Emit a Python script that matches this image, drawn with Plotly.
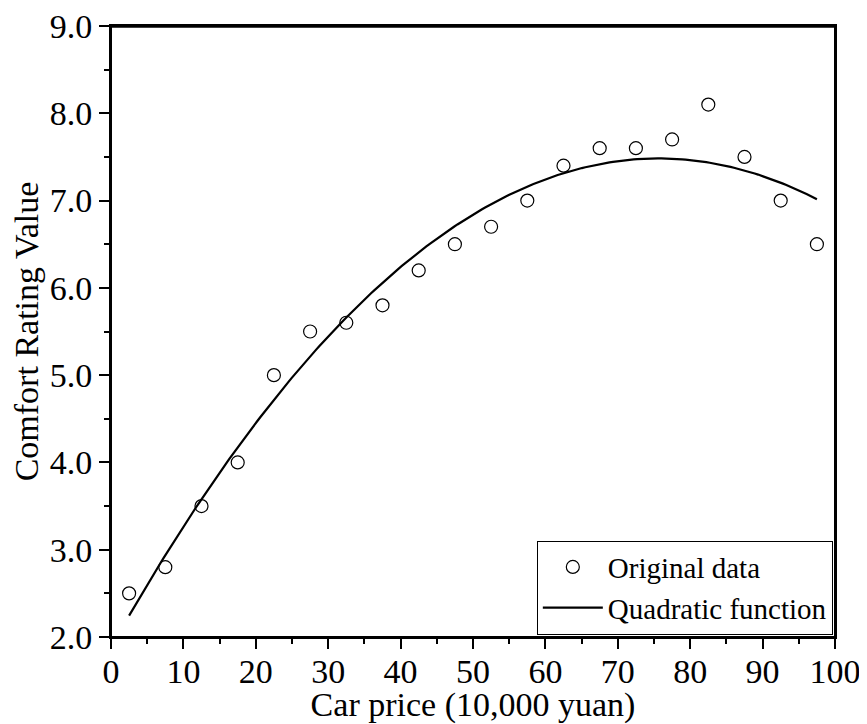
import numpy as np
import plotly.graph_objects as go

# Data
car_price = [2.5, 7.5, 12.5, 17.5, 22.5, 27.5, 32.5, 37.5, 42.5, 47.5,
             52.5, 57.5, 62.5, 67.5, 72.5, 77.5, 82.5, 87.5, 92.5, 97.5]
comfort = [2.5, 2.8, 3.5, 4.0, 5.0, 5.5, 5.6, 5.8, 6.2, 6.5,
           6.7, 7.0, 7.4, 7.6, 7.6, 7.7, 8.1, 7.5, 7.0, 6.5]

x_ticks = [0, 10, 20, 30, 40, 50, 60, 70, 80, 90, 100]
y_ticks = [2.0, 3.0, 4.0, 5.0, 6.0, 7.0, 8.0, 9.0]

# Quadratic least-squares fit of the original data
coef = np.polyfit(car_price, comfort, 2)
fit_x = np.linspace(min(car_price), max(car_price), 200)
fit_y = np.polyval(coef, fit_x)

FONT = "Liberation Serif, Times New Roman, serif"

fig = go.Figure()
fig.add_trace(go.Scatter(
    x=car_price, y=comfort, mode="markers", name="Original data",
    marker=dict(symbol="circle-open", size=13, color="black", line=dict(width=1.2, color="black")),
))
fig.add_trace(go.Scatter(
    x=fit_x, y=fit_y, mode="lines", name="Quadratic function",
    line=dict(color="black", width=2.2),
))

axis_common = dict(
    showline=True, linecolor="black", linewidth=2, mirror=True,
    ticks="outside", ticklen=10, tickwidth=2, tickcolor="black",
    showgrid=False, zeroline=False, automargin=False,
    ticklabeloverflow="allow",
    tickfont=dict(family=FONT, size=34, color="black"),
)

# page body has an 8px margin, so the figure is shifted by 8px
fig.update_layout(
    width=859, height=716,
    margin=dict(l=103, r=32, t=18, b=87),
    paper_bgcolor="white", plot_bgcolor="white",
    font=dict(family=FONT, color="black"),
    showlegend=True,
    legend=dict(
        x=0.997, y=0.004, xanchor="right", yanchor="bottom",
        bgcolor="white", bordercolor="black", borderwidth=1,
        font=dict(family=FONT, size=29, color="black"),
        tracegroupgap=0, itemwidth=60,
    ),
    xaxis=dict(
        range=[0, 100], tickvals=x_ticks, ticktext=[str(v) for v in x_ticks],
        ticklabelstandoff=-7,
        minor=dict(dtick=5, ticklen=5, tickwidth=2, tickcolor="black", ticks="outside"),
        title=dict(text="Car price (10,000 yuan)", font=dict(family=FONT, size=34, color="black"), standoff=0),
        **axis_common,
    ),
    yaxis=dict(
        range=[2, 9], tickvals=y_ticks, ticktext=[f"{v:.1f}" for v in y_ticks],
        minor=dict(dtick=0.5, ticklen=5, tickwidth=2, tickcolor="black", ticks="outside"),
        title=dict(text="Comfort Rating Value", font=dict(family=FONT, size=34, color="black"), standoff=4),
        **axis_common,
    ),
    shapes=[
        dict(type="rect", xref="paper", yref="paper", x0=0, x1=1, y0=0, y1=1,
             line=dict(color="black", width=2), fillcolor="rgba(0,0,0,0)", layer="above"),
        dict(type="line", xref="paper", yref="paper", x0=0, x1=1, y0=0.999, y1=0.999,
             line=dict(color="black", width=2.5), layer="above"),
    ],
)

fig.write_html("out.html", config={"displayModeBar": False})
